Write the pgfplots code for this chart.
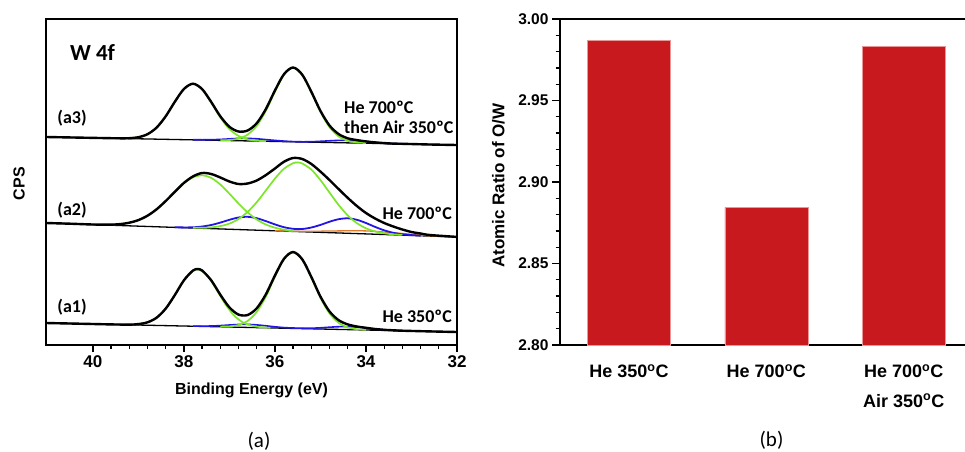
\documentclass[border=0pt]{standalone}
\usepackage{pgfplots}
\pgfplotsset{compat=1.18}
\usepackage{fontspec}
\setmainfont{Liberation Sans}
\newfontfamily\carlito{Carlito}
\definecolor{fitgreen}{RGB}{125,230,40}
\definecolor{fitblue}{RGB}{35,20,230}
\definecolor{fitorange}{RGB}{225,120,40}
\definecolor{barred}{RGB}{200,25,30}
\definecolor{baredge}{RGB}{235,150,150}

\begin{document}
\begin{tikzpicture}
\path[use as bounding box] (0pt,0pt) rectangle (965pt,451pt);

% ---------- (a) W 4f spectra, y in arbitrary CPS units ----------
\begin{axis}[
    at={(46pt,106pt)}, anchor=south west,
    scale only axis, width=411pt, height=326pt,
    xmin=32, xmax=41.03, ymin=0, ymax=326,
    x dir=reverse,
    xtick={32,34,36,38,40}, xticklabels={32,34,36,38,40},
    minor x tick num=4,
    ytick=\empty,
    xtick pos=left, tick align=outside,
    major tick length=7pt, minor tick length=4pt,
    axis line style={line width=1.6pt},
    every tick/.style={black, line width=1.3pt},
    xticklabel style={font=\bfseries\fontsize{17}{17}\selectfont},
    xlabel={Binding Energy (eV)},
    xlabel style={font=\bfseries\fontsize{16}{16}\selectfont,
        at={(axis description cs:0.5,0)}, anchor=center, yshift=-45.5pt},
    ylabel={CPS},
    ylabel style={font=\bfseries\fontsize{16}{16}\selectfont,
        at={(axis description cs:0,0.495)}, anchor=center, yshift=27pt},
]
% baselines
\addplot[black, line width=1.3pt] coordinates {(32,13) (41.03,22)};
\addplot[black, line width=1.3pt] coordinates {(32,108) (41.03,122)};
\addplot[black, line width=1.3pt] coordinates {(32,200) (41.03,208)};

% a2 orange component
\addplot[fitorange, line width=1.3pt, smooth] coordinates {
 (32.0,108.1) (32.4,108.8) (32.8,109.9) (33.2,111.5) (33.6,113.0) (34.0,114.1)
 (34.4,114.2) (34.8,114.0) (35.2,113.7) (35.6,113.8) (36.0,114.3)};

% blue components
\addplot[fitblue, line width=1.6pt, smooth] coordinates {
 (33.2,14.3) (33.4,14.7) (33.6,15.2) (33.8,16.0) (34.0,17.0) (34.2,17.9) (34.4,18.4)
 (34.6,18.3) (34.8,17.8) (35.0,17.2) (35.2,16.8) (35.4,16.8) (35.6,17.0) (35.8,17.4)
 (36.0,18.2) (36.2,19.2) (36.4,20.1) (36.6,20.6) (36.8,20.5) (37.0,20.0) (37.2,19.4)
 (37.4,19.0) (37.6,18.9) (37.8,18.9)};
\addplot[fitblue, line width=1.8pt, smooth] coordinates {
 (32.8,109.3) (33.0,109.9) (33.2,110.7) (33.4,112.2) (33.6,114.7) (33.8,118.1)
 (34.0,122.0) (34.2,125.2) (34.4,126.7) (34.6,125.8) (34.8,123.3) (35.0,120.1)
 (35.2,117.5) (35.4,116.0) (35.6,116.2) (35.8,117.8) (36.0,120.6) (36.2,123.9)
 (36.4,126.8) (36.6,128.2) (36.8,127.5) (37.0,125.2) (37.2,122.4) (37.4,120.0)
 (37.6,118.5) (37.8,117.7) (38.0,117.6) (38.2,117.7)};
\addplot[fitblue, line width=1.6pt, smooth] coordinates {
 (33.2,201.2) (33.4,201.4) (33.6,201.9) (33.8,202.6) (34.0,203.5) (34.2,204.3)
 (34.4,204.6) (34.6,204.6) (34.8,204.2) (35.0,203.7) (35.2,203.3) (35.4,203.2)
 (35.6,203.4) (35.8,203.9) (36.0,204.6) (36.2,205.4) (36.4,206.2) (36.6,206.6)
 (36.8,206.6) (37.0,206.1) (37.2,205.6) (37.4,205.3) (37.6,205.2) (37.8,205.3)};

% green components
\addplot[fitgreen, line width=1.7pt, smooth] coordinates {
 (36.1,17.2) (36.3,17.8) (36.5,19.2) (36.7,22.5) (36.9,29.6) (37.1,41.5) (37.3,56.7)
 (37.5,70.1) (37.7,75.7) (37.9,70.5) (38.1,57.5) (38.3,42.7) (38.5,31.2) (38.7,24.5)
 (38.9,21.6) (39.1,20.6) (39.3,20.4)};
\addplot[fitgreen, line width=1.7pt, smooth] coordinates {
 (34.0,15.2) (34.2,15.8) (34.4,17.6) (34.6,22.1) (34.8,31.5) (35.0,47.2) (35.2,67.4)
 (35.4,85.3) (35.6,92.6) (35.8,85.7) (36.0,68.2) (36.2,48.4) (36.4,33.1) (36.6,24.1)
 (36.8,20.0) (37.0,18.6) (37.2,18.4)};
\addplot[fitgreen, line width=1.7pt, smooth] coordinates {
 (35.6,114.2) (35.8,115.3) (36.0,117.3) (36.2,120.5) (36.4,125.5) (36.6,132.6)
 (36.8,141.5) (37.0,151.3) (37.2,160.5) (37.4,167.1) (37.6,169.7) (37.8,167.7)
 (38.0,161.7) (38.2,153.1) (38.4,144.0) (38.6,135.7) (38.8,129.3) (39.0,124.9)
 (39.2,122.3) (39.4,120.9) (39.6,120.4) (39.8,120.3)};
\addplot[fitgreen, line width=1.7pt, smooth] coordinates {
 (33.2,110.1) (33.4,110.7) (33.6,111.7) (33.8,113.6) (34.0,116.7) (34.2,121.9)
 (34.4,129.6) (34.6,140.0) (34.8,152.4) (35.0,164.9) (35.2,175.4) (35.4,181.5)
 (35.5,182.5) (35.6,181.8) (35.8,176.3) (36.0,166.4) (36.2,154.5) (36.4,142.8)
 (36.6,133.1) (36.8,126.0) (37.0,121.4) (37.2,118.9) (37.4,117.6) (37.6,117.2)
 (37.8,117.2)};
\addplot[fitgreen, line width=1.7pt, smooth] coordinates {
 (36.2,203.8) (36.4,204.3) (36.6,205.7) (36.8,209.1) (37.0,215.9) (37.2,227.6)
 (37.4,242.5) (37.6,255.7) (37.8,261.2) (38.0,256.0) (38.2,243.2) (38.4,228.7)
 (38.6,217.4) (38.8,210.8) (39.0,207.8) (39.2,206.8) (39.4,206.7)};
\addplot[fitgreen, line width=1.7pt, smooth] coordinates {
 (34.0,201.9) (34.2,202.6) (34.4,204.2) (34.6,208.6) (34.8,217.7) (35.0,233.1)
 (35.2,252.7) (35.4,270.0) (35.6,277.2) (35.8,270.4) (36.0,253.5) (36.2,234.1)
 (36.4,219.1) (36.6,210.4) (36.8,206.4) (37.0,205.0) (37.2,204.7)};

% measured spectra / envelopes
\addplot[black, line width=2.4pt, smooth] coordinates {
 (32,13.0) (32.6,13.6) (33.2,14.3) (33.4,14.7) (33.6,15.2) (33.8,16.0) (34.0,17.2)
 (34.2,18.5) (34.4,20.6) (34.6,24.8) (34.8,33.5) (35.0,48.4) (35.2,68.0) (35.4,85.7)
 (35.6,93.0) (35.8,86.3) (36.0,69.5) (36.2,50.6) (36.4,36.7) (36.6,30.0) (36.8,30.4)
 (37.0,37.6) (37.2,50.3) (37.4,64.7) (37.6,74.5) (37.7,75.9) (37.8,74.5) (38.0,64.7)
 (38.2,49.9) (38.4,36.4) (38.6,27.3) (38.8,22.7) (39.0,20.9) (39.2,20.4) (39.6,20.6)
 (40.2,21.2) (41.03,22.0)};
\addplot[black, line width=2.4pt, smooth] coordinates {
 (32,108.1) (32.6,110.0) (32.8,111.5) (33.0,113.0) (33.2,115.5) (33.4,118.5)
 (33.6,122.0) (33.8,126.5) (34.0,132.0) (34.2,139.0) (34.4,147.1) (34.6,155.9)
 (34.8,164.9) (35.0,173.4) (35.2,181.0) (35.4,186.0) (35.6,187.0) (35.8,183.3)
 (36.0,176.5) (36.2,169.9) (36.4,164.5) (36.6,161.5) (36.8,161.0) (37.0,163.5)
 (37.2,167.5) (37.4,171.0) (37.6,172.0) (37.8,168.6) (38.0,162.1) (38.2,153.2)
 (38.4,144.0) (38.6,135.7) (38.8,129.3) (39.0,124.9) (39.2,122.3) (39.4,120.9)
 (39.6,120.4) (40.0,120.5) (40.5,121.3) (41.03,122.0)};
\addplot[black, line width=2.4pt, smooth] coordinates {
 (32,200.0) (32.6,200.5) (33.2,201.2) (33.4,201.4) (33.6,201.9) (33.8,202.6)
 (34.0,203.6) (34.2,204.9) (34.4,206.7) (34.6,210.9) (34.8,219.4) (35.0,234.1)
 (35.2,253.2) (35.4,270.3) (35.6,277.5) (35.8,270.9) (36.0,254.5) (36.2,235.9)
 (36.4,221.8) (36.6,214.5) (36.8,213.5) (37.0,218.2) (37.2,228.7) (37.4,243.0)
 (37.6,255.9) (37.8,261.3) (38.0,256.0) (38.2,243.2) (38.4,228.7) (38.6,217.4)
 (38.8,210.8) (39.0,207.8) (39.2,206.8) (39.4,206.7) (39.6,206.8) (40.2,207.3)
 (41.03,208.0)};
\end{axis}

% annotations of panel (a)
\node[font=\carlito\bfseries\fontsize{23}{23}\selectfont] at (92.5pt,398.5pt) {W 4f};
\node[font=\carlito\bfseries\fontsize{18}{18}\selectfont] at (72pt,333pt) {(a3)};
\node[font=\carlito\bfseries\fontsize{18}{18}\selectfont] at (72pt,241pt) {(a2)};
\node[font=\carlito\bfseries\fontsize{18}{18}\selectfont] at (72pt,144pt) {(a1)};
\node[font=\carlito\bfseries\fontsize{18}{18}\selectfont, anchor=west, inner sep=0pt] at (344pt,343.5pt) {He 700ºC};
\node[font=\carlito\bfseries\fontsize{18}{18}\selectfont, anchor=west, inner sep=0pt] at (344pt,323.5pt) {then Air 350ºC};
\node[font=\carlito\bfseries\fontsize{18}{18}\selectfont, anchor=east, inner sep=0pt] at (452pt,238pt) {He 700ºC};
\node[font=\carlito\bfseries\fontsize{18}{18}\selectfont, anchor=east, inner sep=0pt] at (452pt,134.5pt) {He 350ºC};
\node[font=\carlito\fontsize{21}{21}\selectfont] at (259pt,10pt) {(a)};

% ---------- (b) O/W ratio ----------
\begin{axis}[
    at={(560pt,106pt)}, anchor=south west,
    scale only axis, width=410pt, height=326pt,
    xmin=-0.5025, xmax=2.483, ymin=2.8, ymax=3.0,
    xtick={0,1,2},
    xticklabels={He 350\textsuperscript{o}C, He 700\textsuperscript{o}C,
        He 700\textsuperscript{o}C\\Air 350\textsuperscript{o}C},
    xtick style={draw=none},
    xticklabel style={font=\bfseries\fontsize{18}{29.5}\selectfont,
        align=center, anchor=north, yshift=-8pt},
    ytick={2.8,2.85,2.9,2.95,3.0}, minor y tick num=4,
    ytick pos=left, tick align=outside,
    major tick length=8pt, minor tick length=4.5pt,
    axis line style={line width=1.6pt},
    every tick/.style={black, line width=1.3pt},
    yticklabel style={font=\bfseries\fontsize{15.5}{15.5}\selectfont,
        /pgf/number format/.cd, fixed, fixed zerofill, precision=2,
        assume math mode=true},
    ylabel={Atomic Ratio of O/W},
    ylabel style={font=\bfseries\fontsize{17}{17}\selectfont,
        at={(axis description cs:0,0.489)}, anchor=center, yshift=61.5pt},
]
\addplot[ybar, bar width=0.605, fill=barred, draw=baredge, line width=0.6pt]
    coordinates {(0,2.987) (1,2.8845) (2,2.983)};
\end{axis}
\node[font=\carlito\fontsize{21}{21}\selectfont] at (771.5pt,11pt) {(b)};
\end{tikzpicture}
\end{document}
